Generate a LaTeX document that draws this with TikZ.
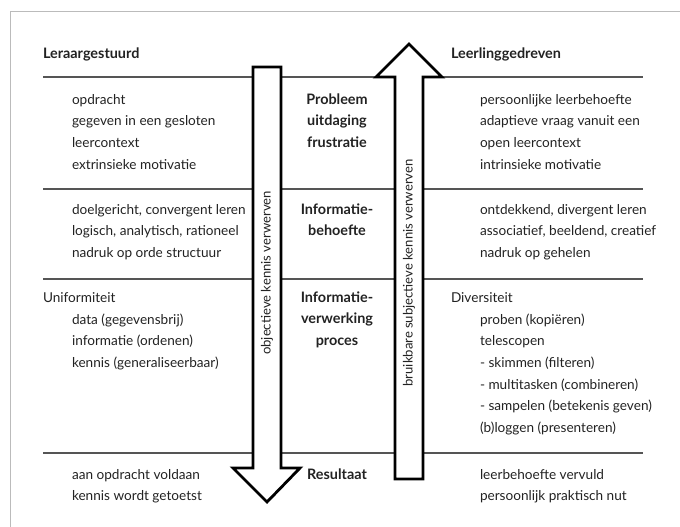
\documentclass[tikz,border=0pt]{standalone}
\usepackage{fontspec}
\setmainfont{Lato}
\definecolor{txt}{HTML}{222222}
\definecolor{rule}{HTML}{555555}
\definecolor{frame}{HTML}{BBBBBB}
\begin{document}
\begin{tikzpicture}[x=1pt,y=-1pt,
  every node/.style={inner sep=0pt,outer sep=0pt,text=txt,font=\fontsize{13.6}{21.7}\selectfont},
  lbl/.style={anchor=base west,align=left},
  mid/.style={anchor=base,align=center,font=\fontsize{14.4}{21.7}\selectfont\bfseries},
  head/.style={anchor=base west,font=\fontsize{14.4}{21.7}\selectfont\bfseries},
  sep/.style={draw=rule,line width=1.1pt},
  bigarrow/.style={draw=black,fill=white,line width=2.8pt,miter limit=10},
  rot/.style={rotate=90,anchor=center,font=\fontsize{13.1}{15}\selectfont}]
\useasboundingbox (0,0) rectangle (680,527);
\draw[frame,line width=1pt] (10,530) -- (10,12) -- (683,12);
% separator lines
\coordinate (l1a) at (43,77);  \coordinate (l1b) at (643,77);
\coordinate (l2a) at (43,189); \coordinate (l2b) at (643,189);
\coordinate (l3a) at (43,279); \coordinate (l3b) at (643,279);
\coordinate (l4a) at (43,453); \coordinate (l4b) at (643,453);
\draw[sep] (l1a) -- (l1b);
\draw[sep] (l2a) -- (l2b);
\draw[sep] (l3a) -- (l3b);
\draw[sep] (l4a) -- (l4b);
% arrows
\draw[bigarrow] (253,67) -- (281,67) -- (281,468) -- (300,468) -- (267,502) -- (233,468) -- (253,468) -- cycle;
\draw[bigarrow] (395,479) -- (423,479) -- (423,77) -- (442,77) -- (409,44) -- (376,77) -- (395,77) -- cycle;
\node[rot] (objtxt) at (267,273) {objectieve kennis verwerven};
\node[rot] (subtxt) at (409,273) {bruikbare subjectieve kennis verwerven};
% headers
\node[head] (hl) at (43,59) {Leraargestuurd};
\node[head] (hr) at (451,59) {Leerlinggedreven};
% row 1 (anchor = baseline of last line)
\node[lbl] (r1l) at (72,169.1) {opdracht\\gegeven in een gesloten\\leercontext\\extrinsieke motivatie};
\node[mid] (r1m) at (337,147.4) {Probleem\\uitdaging\\frustratie};
\node[lbl] (r1r) at (480,169.1) {persoonlijke leerbehoefte\\adaptieve vraag vanuit een\\open leercontext\\intrinsieke motivatie};
% row 2
\node[lbl] (r2l) at (72,257.4) {doelgericht, convergent leren\\logisch, analytisch, rationeel\\nadruk op orde structuur};
\node[mid] (r2m) at (337,235.7) {Informatie-\\behoefte};
\node[lbl] (r2r) at (480,257.4) {ontdekkend, divergent leren\\associatief, beeldend, creatief\\nadruk op gehelen};
% row 3
\node[lbl] (r3h) at (43,302) {Uniformiteit};
\node[lbl] (r3l) at (72,367.4) {data (gegevensbrij)\\informatie (ordenen)\\kennis (generaliseerbaar)};
\node[mid] (r3m) at (337,345.4) {Informatie-\\verwerking\\proces};
\node[lbl] (r3hr) at (451,302) {Diversiteit};
\node[lbl] (r3r) at (480,432.5) {proben (kopiëren)\\telescopen\\- skimmen (filteren)\\- multitasken (combineren)\\- sampelen (betekenis geven)\\(b)loggen (presenteren)};
% row 4
\node[lbl] (r4l) at (72,500.7) {aan opdracht voldaan\\kennis wordt getoetst};
\node[mid] (r4m) at (337,479) {Resultaat};
\node[lbl] (r4r) at (480,500.7) {leerbehoefte vervuld\\persoonlijk praktisch nut};
\end{tikzpicture}
\end{document}
